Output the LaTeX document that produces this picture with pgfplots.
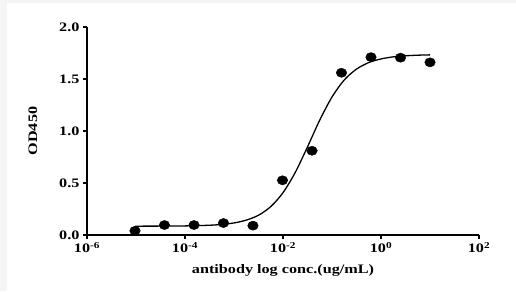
\documentclass[border=0pt]{standalone}
\usepackage{fontspec}
\setmainfont{Liberation Serif}[FakeStretch=1.25]
\usepackage{pgfplots}
\pgfplotsset{compat=1.18}
\definecolor{edgegray}{HTML}{F5F5F5}
\begin{document}
\begin{tikzpicture}[x=1bp,y=1bp]
\fill[edgegray] (-87,-56) rectangle (429,235);
\fill[white] (-80,-56) rectangle (429,232);
\path[use as bounding box] (-87,-56) rectangle (429,235);
\begin{axis}[
  at={(0,0)}, anchor=south west,
  scale only axis, width=392bp, height=208bp,
  xmode=log, xmin=1e-6, xmax=100,
  ymin=0, ymax=2.0,
  axis x line*=bottom, axis y line*=left,
  axis line style={line width=1.4pt},
  every tick/.style={line width=1.4pt, black},
  tick align=outside, major tick length=4bp,
  minor tick num=0, xminorticks=false,
  xtick={1e-6,1e-4,1e-2,1,100},
  xticklabels={10\textsuperscript{-6},10\textsuperscript{-4},10\textsuperscript{-2},10\textsuperscript{0},10\textsuperscript{2}},
  ytick={0,0.5,1,1.5,2},
  yticklabel style={/pgf/number format/.cd, fixed, fixed zerofill, precision=1, assume math mode=true},
  ticklabel style={font=\fontsize{13}{15}\selectfont\bfseries},
  xlabel={antibody log conc.(ug/mL)},
  ylabel={OD450},
  label style={font=\fontsize{13}{15}\selectfont\bfseries},
  xlabel style={at={(axis description cs:0.5,-0.168)}, anchor=center},
  ylabel style={at={(axis description cs:-0.138,0.5)}, anchor=center},
  clip=false,
]
\addplot[only marks, mark=*, mark size=4.6bp, mark options={xscale=1.15}, black] coordinates {
  (9.54e-6,0.040) (3.81e-5,0.096) (1.53e-4,0.096) (6.10e-4,0.115)
  (2.44e-3,0.090) (9.77e-3,0.526) (3.91e-2,0.810) (0.156,1.560)
  (0.625,1.710) (2.5,1.705) (10,1.660)
};
\addplot[black, line width=1.3pt, smooth] coordinates {
  (9.54e-6,0.085) (3.16e-5,0.0857) (1e-4,0.0875) (3.16e-4,0.0939)
  (5.62e-4,0.102) (1e-3,0.116) (1.78e-3,0.143) (3.16e-3,0.190)
  (5.62e-3,0.273) (1e-2,0.407) (1.78e-2,0.602) (3.16e-2,0.847)
  (5.62e-2,1.105) (0.1,1.327) (0.178,1.491) (0.316,1.595)
  (0.562,1.658) (1,1.693) (1.78,1.713) (3.16,1.723) (5.62,1.729) (10,1.732)
};
\end{axis}
\end{tikzpicture}
\end{document}
